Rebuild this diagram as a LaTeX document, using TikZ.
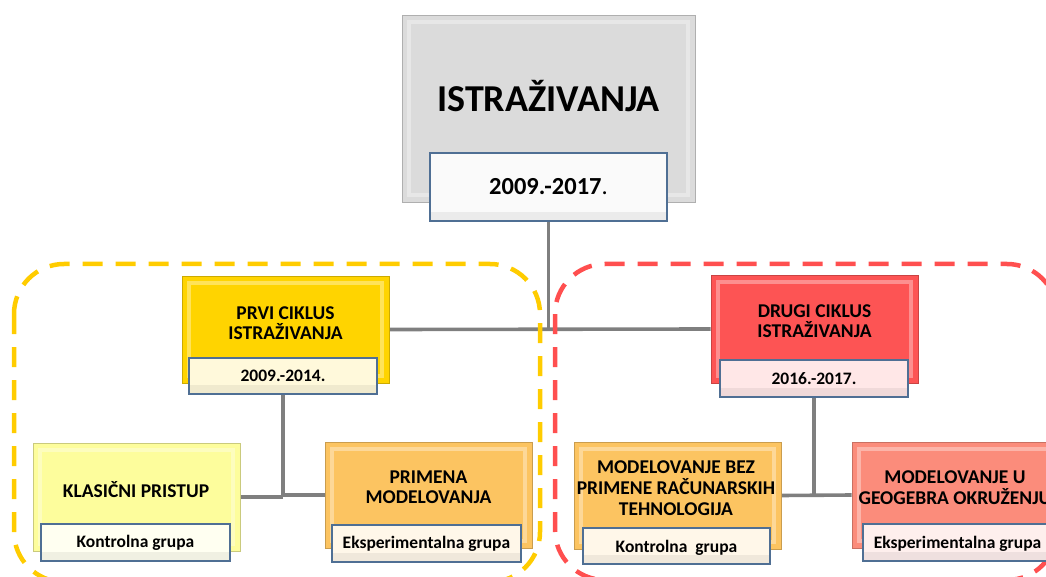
\documentclass[tikz,border=0pt]{standalone}
\usepackage{fontspec}
\setmainfont{Carlito}
\usetikzlibrary{backgrounds}
\definecolor{mgray}{HTML}{DBDBDB}
\definecolor{gold}{HTML}{FFD400}
\definecolor{lyel}{HTML}{FDFD9C}
\definecolor{lorg}{HTML}{FCC461}
\definecolor{cred}{HTML}{FD5454}
\definecolor{salm}{HTML}{FB8C7B}
\definecolor{subb}{HTML}{4F6F94}
\definecolor{conn}{HTML}{7F7F7F}
\definecolor{ydash}{HTML}{FFCC00}
\definecolor{rdash}{HTML}{FF4F4F}
\tikzset{
  bbox/.style={draw=#1!80!black, line width=0.7pt, fill=#1, inner sep=0pt,
    path picture={\draw[white, opacity=0.35, line width=4pt]
      ([shift={(7,7)}]path picture bounding box.north west) rectangle
      ([shift={(-7,-7)}]path picture bounding box.south east);}},
  sbox/.style={draw=subb, line width=1.3pt, fill=white!86!#1, inner sep=0pt,
    path picture={\fill[black, opacity=0.06]
      ([shift={(0,-9)}]path picture bounding box.south west) rectangle
      (path picture bounding box.south east);}},
  btxt/.style={font=\fontsize{19.5}{20}\selectfont\bfseries, inner sep=0pt},
  stxt/.style={font=\fontsize{17.5}{18}\selectfont\bfseries, inner sep=0pt},
  conline/.style={draw=conn, line width=3.6pt},
  grp/.style={line width=4.5pt, dash pattern=on 20pt off 13pt, rounded corners=50pt},
}
\begin{document}
\begin{tikzpicture}[x=1pt, y=-1pt]
\useasboundingbox (0,0) rectangle (1046,577);
\clip (0,0) rectangle (1046,577);

% group frames
\draw[grp, draw=ydash] (14,264) rectangle (540,582);
\draw[grp, draw=rdash] (555,264) rectangle (1057,580);

% top
\node[bbox=mgray, minimum width=293, minimum height=187] (main) at (548.5,108.5) {};
\node[font=\fontsize{38}{40}\selectfont\bfseries, inner sep=0pt, anchor=base] (mainlbl) at (548.5,112) {ISTRAŽIVANJA};
\node[sbox=mgray, minimum width=237, minimum height=68] (d0) at (548.5,187) {};
\node[font=\fontsize{24.5}{26}\selectfont, inner sep=0pt, anchor=base] (d0lbl) at (548.5,195) {\textbf{2009.-2017}.};

% first cycle
\node[bbox=gold, minimum width=207, minimum height=107] (prvi) at (285.5,329.5) {};
\node[btxt, anchor=base] (prvi1) at (285.5,319) {PRVI CIKLUS};
\node[btxt, anchor=base] (prvi2) at (285.5,339) {ISTRAŽIVANJA};
\node[sbox=gold, minimum width=188, minimum height=36] (d1) at (283,376) {};
\node[stxt, anchor=base] (d1lbl) at (283,381) {2009.-2014.};

% second cycle
\node[bbox=cred, minimum width=207, minimum height=108] (drugi) at (814.5,329) {};
\node[btxt, anchor=base] (drugi1) at (814.5,317) {DRUGI CIKLUS};
\node[btxt, anchor=base] (drugi2) at (814.5,337) {ISTRAŽIVANJA};
\node[sbox=cred, minimum width=188, minimum height=37] (d2) at (814,378.5) {};
\node[stxt, anchor=base] (d2lbl) at (814,384) {2016.-2017.};

% left leaves
\node[bbox=lyel, minimum width=207, minimum height=108] (kl) at (136.5,497) {};
\node[btxt, anchor=base] (kl1) at (136,497) {KLASIČNI PRISTUP};
\node[sbox=lyel, minimum width=189, minimum height=37] (k1) at (135.5,542.5) {};
\node[stxt, anchor=base] (k1lbl) at (135.5,547) {Kontrolna grupa};

\node[bbox=lorg, minimum width=207, minimum height=106] (pm) at (428.5,495) {};
\node[btxt, anchor=base] (pm1) at (428.5,483) {PRIMENA};
\node[btxt, anchor=base] (pm2) at (428.5,503) {MODELOVANJA};
\node[sbox=lorg, minimum width=189, minimum height=37] (e1) at (426.5,543.5) {};
\node[stxt, anchor=base] (e1lbl) at (426.5,548) {Eksperimentalna grupa};

% right leaves
\node[bbox=lorg, minimum width=207, minimum height=107] (mb) at (677.5,495.5) {};
\node[btxt, anchor=base] (mb1) at (676,473) {MODELOVANJE BEZ};
\node[btxt, anchor=base] (mb2) at (676,494) {PRIMENE RAČUNARSKIH};
\node[btxt, anchor=base] (mb3) at (676,515) {TEHNOLOGIJA};
\node[sbox=lorg, minimum width=187, minimum height=36] (k2) at (676.5,546) {};
\node[stxt, anchor=base] (k2lbl) at (676.5,552) {Kontrolna\ \ grupa};

\node[bbox=salm, minimum width=207, minimum height=106] (mu) at (955.5,495) {};
\node[btxt, anchor=base] (mu1) at (955,483) {MODELOVANJE U};
\node[btxt, anchor=base] (mu2) at (955,504) {GEOGEBRA OKRUŽENJU};
\node[sbox=salm, minimum width=189, minimum height=37] (e2) at (957.5,542.5) {};
\node[stxt, anchor=base] (e2lbl) at (957.5,548) {Eksperimentalna grupa};

% connectors
\begin{scope}[on background layer]
\draw[conline] (d0.south) -- (d0.south |- prvi.east);
\draw[conline] (prvi.east) -- (drugi.west);
\draw[conline] (d1.south) -- (d1.south |- kl.east);
\draw[conline] (kl.east) -- (kl.east -| d1.south);
\draw[conline] (pm.west) -- (pm.west -| d1.south);
\draw[conline] (d2.south) -- (d2.south |- mb.east);
\draw[conline] (mb.east) -- (mu.west);
\end{scope}
\end{tikzpicture}
\end{document}
